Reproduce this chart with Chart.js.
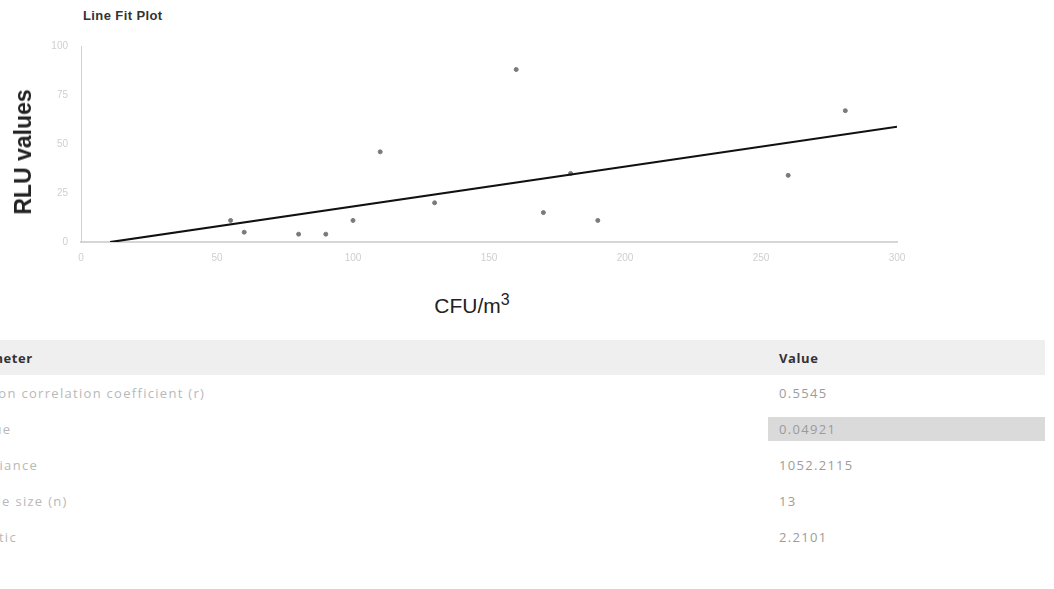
<!DOCTYPE html>
<html>
<head>
<meta charset="utf-8">
<script src="https://cdn.jsdelivr.net/npm/chart.js@4/dist/chart.umd.min.js"></script>
<style>
  html, body { margin: 0; padding: 0; background: #fff; width: 1054px; height: 589px; overflow: hidden; }
  #wrap { position: relative; width: 1054px; height: 589px; overflow: hidden; }
  #plotTitle { position: absolute; left: 83px; top: 8px; font: bold 13px/15px "Liberation Sans", Arial, sans-serif; letter-spacing: 0.4px; color: #333; }
  #chartBox { position: absolute; left: 0; top: 0; width: 1054px; height: 272px; }
  #yTitle { position: absolute; left: 23px; top: 152px; transform: translate(-50%, -50%) rotate(-90deg); white-space: nowrap; font: bold 23px/26px "Liberation Sans", Arial, sans-serif; color: #222; }
  #xTitle { position: absolute; left: 0; width: 944px; top: 294px; text-align: center; font: 21px/24px "Liberation Sans", Arial, sans-serif; color: #222; }
  #xTitle sup { font-size: 16px; vertical-align: 8px; line-height: 0; }
  table { position: absolute; left: -53px; top: 340px; width: 1098px; border-collapse: collapse; font-family: "Open Sans", sans-serif; font-size: 13px; letter-spacing: 1.3px; }
  th { background: #efefef; height: 35px; text-align: left; font-weight: bold; color: #333; padding: 0 0 0 11px; letter-spacing: 0.6px; }
  td { height: 36px; color: #b8b8b8; padding: 0 0 0 11px; }
  td.v { color: #9c9c9c; }
  td.hl { padding: 0; }
  td.hl div { background: #dadada; height: 24px; line-height: 24px; padding-left: 11px; color: #9a9a9a; }
</style>
</head>
<body>
<div id="wrap">
  <div id="plotTitle">Line Fit Plot</div>
  <div id="chartBox"><canvas id="c"></canvas></div>
  <div id="yTitle">RLU values</div>
  <div id="xTitle">CFU/m<sup>3</sup></div>
  <table id="stats"></table>
</div>
<script>
// Observations
const cfu = [55, 60, 80, 90, 100, 110, 130, 160, 170, 180, 190, 260, 281];
const rlu = [11, 5, 4, 4, 11, 46, 20, 88, 15, 35, 11, 34, 67];

// Fitted line end points
const fitX = [10.7, 300];
const fitY = [0, 58.8];

// Axis ticks
const xTicks = [0, 50, 100, 150, 200, 250, 300];
const yTicks = [0, 25, 50, 75, 100];

// Summary statistics
const paramNames = ["Pearson correlation coefficient (r)", "P-value", "Covariance", "Sample size (n)", "Statistic"];
const paramValues = ["0.5545", "0.04921", "1052.2115", "13", "2.2101"];

const table = document.getElementById('stats');
let html = '<tr><th style="width:810px">Parameter</th><th>Value</th></tr>';
paramNames.forEach((n, i) => {
  const val = i === 1 ? '<td class="hl"><div>' + paramValues[i] + '</div></td>' : '<td class="v">' + paramValues[i] + '</td>';
  html += '<tr><td>' + n + '</td>' + val + '</tr>';
});
table.innerHTML = html;

new Chart(document.getElementById('c'), {
  data: {
    datasets: [
      {
        type: 'scatter',
        data: cfu.map((x, i) => ({ x: x, y: rlu[i] })),
        backgroundColor: '#7a7a7a',
        borderColor: '#7a7a7a',
        pointRadius: 2,
        pointHoverRadius: 2,
        order: 2
      },
      {
        type: 'line',
        data: fitX.map((x, i) => ({ x: x, y: fitY[i] })),
        borderColor: '#111',
        borderWidth: 2.2,
        pointRadius: 0,
        fill: false,
        order: 1
      }
    ]
  },
  options: {
    responsive: true,
    maintainAspectRatio: false,
    animation: false,
    layout: { padding: { left: 0, right: 157, top: 46, bottom: 0 } },
    plugins: { legend: { display: false }, tooltip: { enabled: false } },
    scales: {
      x: {
        type: 'linear',
        min: 0, max: 300,
        afterBuildTicks: s => { s.ticks = xTicks.map(v => ({ value: v })); },
        afterFit: s => { s.height = 30; },
        grid: { display: false, drawTicks: false },
        border: { display: true, color: '#d6d6d6', width: 2 },
        ticks: { padding: 10, color: '#cfcfcf', font: { family: 'Liberation Sans', size: 10 } }
      },
      y: {
        type: 'linear',
        min: 0, max: 100,
        afterBuildTicks: s => { s.ticks = yTicks.map(v => ({ value: v })); },
        afterFit: s => { s.width = 81; },
        grid: { display: false, drawTicks: false },
        border: { display: true, color: '#d0d0d0', width: 1, dash: [1, 2] },
        ticks: { padding: 13, color: '#cfcfcf', font: { family: 'Liberation Sans', size: 10 } }
      }
    }
  }
});
</script>
</body>
</html>
